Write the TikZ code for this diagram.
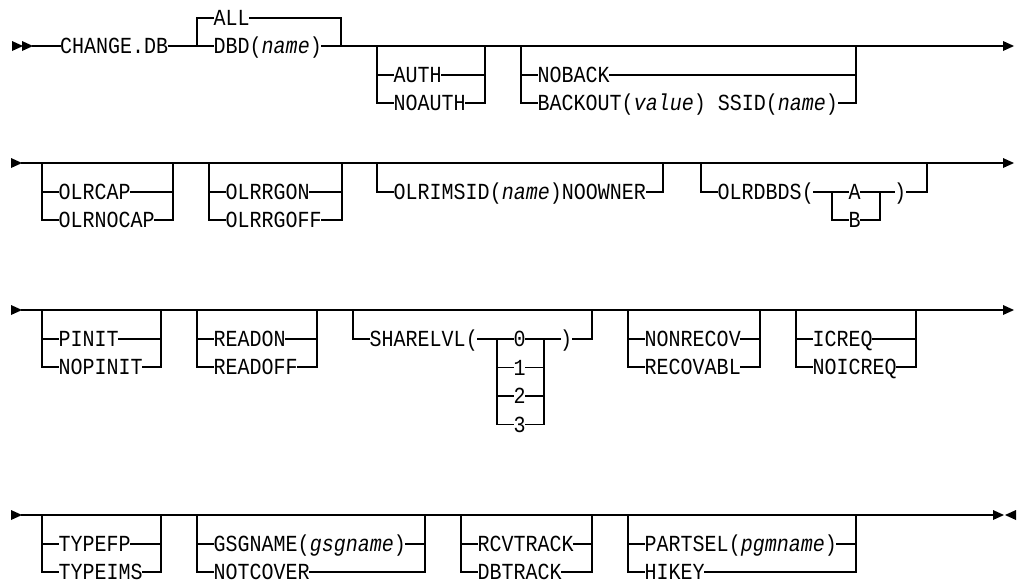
\documentclass[tikz,border=0pt]{standalone}
\usepackage{fontspec}
\newfontfamily\railfont[FakeStretch=0.87]{Liberation Mono}
% branch: name, left x, right x, y, text
\newcommand\rbr[5]{%
  \node[lbl] (#1) at ({#2+16.5},#4) {#5};
  \coordinate (#1-l) at (#2,#4);
  \coordinate (#1-r) at (#3,#4);
  \draw[rail] (#1-l) -- (#1.west);
  \draw[rail] (#1.east) -- (#1-r);}
% group verticals: left x, right x, main y, name of lowest branch
\newcommand\rgrp[4]{%
  \draw[rail] (#1,#3) -- (#4-l);
  \draw[rail] (#2,#3) -- (#4-r);}
\newcommand\rtriR[2]{\fill (#1,{#2-5}) -- ({#1+11},#2) -- (#1,{#2+5}) -- cycle;}
\newcommand\rtriL[2]{\fill ({#1+11},{#2-5}) -- (#1,#2) -- ({#1+11},{#2+5}) -- cycle;}
\begin{document}
\begin{tikzpicture}[x=1pt,y=-1pt,
  rail/.style={line width=1.1pt, line cap=rect},
  lbl/.style={font=\railfont\fontsize{23}{27}\selectfont, inner sep=0pt, anchor=west, text height=15pt, text depth=0pt}]
\useasboundingbox (0,0) rectangle (1017,582);
% ---------------- Row 1 ----------------
\rtriR{12}{46}\rtriR{22}{46}
\coordinate (s1) at (33,46);
\node[lbl] (chg) at (60,46) {CHANGE.DB};
\draw[rail] (s1) -- (chg.west);
\coordinate (g0L) at (197,46);
\coordinate (g0R) at (341,46);
\draw[rail] (chg.east) -- (g0L);
\rbr{all}{197}{341}{18}{ALL}
\node[lbl] (dbd) at (213.5,46) {DBD(\textit{name})};
\draw[rail] (g0L) -- (dbd.west);
\draw[rail] (dbd.east) -- (g0R);
\draw[rail] (all-l) -- (g0L);
\draw[rail] (all-r) -- (g0R);
\coordinate (e1) at (1003,46);
\draw[rail] (g0R) -- (e1);
\rtriR{1003}{46}
\rbr{auth}{377}{485}{75}{AUTH}
\rbr{noauth}{377}{485}{103}{NOAUTH}
\rgrp{377}{485}{46}{noauth}
\rbr{noback}{521}{856}{75}{NOBACK}
\rbr{backout}{521}{856}{103}{BACKOUT(\textit{value}) SSID(\textit{name})}
\rgrp{521}{856}{46}{backout}
% ---------------- Row 2 ----------------
\rtriR{11}{163}
\coordinate (s2) at (22,163);
\coordinate (e2) at (1003,163);
\draw[rail] (s2) -- (e2);
\rtriR{1003}{163}
\rbr{olrcap}{42}{173}{192}{OLRCAP}
\rbr{olrnocap}{42}{173}{220}{OLRNOCAP}
\rgrp{42}{173}{163}{olrnocap}
\rbr{olrrgon}{209}{342}{192}{OLRRGON}
\rbr{olrrgoff}{209}{342}{220}{OLRRGOFF}
\rgrp{209}{342}{163}{olrrgoff}
\rbr{olrimsid}{377}{663}{192}{OLRIMSID(\textit{name})NOOWNER}
\rgrp{377}{663}{163}{olrimsid}
\node[lbl] (olrdbds) at (717.5,192) {OLRDBDS(};
\coordinate (olrdbds-l) at (701,192);
\coordinate (olrdbds-r) at (927,192);
\coordinate (abL) at (832,192);
\coordinate (abR) at (880,192);
\draw[rail] (olrdbds-l) -- (olrdbds.west);
\draw[rail] (olrdbds.east) -- (abL);
\rbr{optA}{832}{880}{192}{A}
\rbr{optB}{832}{880}{220}{B}
\draw[rail] (abL) -- (optB-l);
\draw[rail] (abR) -- (optB-r);
\node[lbl] (rpA) at (894,192) {)};
\draw[rail] (abR) -- (rpA.west);
\draw[rail] (rpA.east) -- (olrdbds-r);
\rgrp{701}{927}{163}{olrdbds}
% ---------------- Row 3 ----------------
\rtriR{11}{310}
\coordinate (s3) at (22,310);
\coordinate (e3) at (1003,310);
\draw[rail] (s3) -- (e3);
\rtriR{1003}{310}
\rbr{pinit}{42}{161}{339}{PINIT}
\rbr{nopinit}{42}{161}{367}{NOPINIT}
\rgrp{42}{161}{310}{nopinit}
\rbr{readon}{197}{317}{339}{READON}
\rbr{readoff}{197}{317}{367}{READOFF}
\rgrp{197}{317}{310}{readoff}
\node[lbl] (sharelvl) at (369.5,339) {SHARELVL(};
\coordinate (sharelvl-l) at (353,339);
\coordinate (sharelvl-r) at (592,339);
\coordinate (dL) at (497,339);
\coordinate (dR) at (544,339);
\draw[rail] (sharelvl-l) -- (sharelvl.west);
\draw[rail] (sharelvl.east) -- (dL);
\rbr{d0}{497}{544}{339}{0}
\rbr{d1}{497}{544}{367.5}{1}
\rbr{d2}{497}{544}{396}{2}
\rbr{d3}{497}{544}{424.5}{3}
\draw[rail] (dL) -- (d3-l);
\draw[rail] (dR) -- (d3-r);
\node[lbl] (rpS) at (560,339) {)};
\draw[rail] (dR) -- (rpS.west);
\draw[rail] (rpS.east) -- (sharelvl-r);
\rgrp{353}{592}{310}{sharelvl}
\rbr{nonrecov}{628}{760}{339}{NONRECOV}
\rbr{recovabl}{628}{760}{367}{RECOVABL}
\rgrp{628}{760}{310}{recovabl}
\rbr{icreq}{796}{916}{339}{ICREQ}
\rbr{noicreq}{796}{916}{367}{NOICREQ}
\rgrp{796}{916}{310}{noicreq}
% ---------------- Row 4 ----------------
\rtriR{11}{515}
\coordinate (s4) at (22,515);
\coordinate (e4) at (993,515);
\draw[rail] (s4) -- (e4);
\coordinate (t1) at (862,515);
\coordinate (t2) at (885,515);
\draw[line width=2.4pt] (t1) -- (t2);
\rtriR{993}{515}\rtriL{1005}{515}
\rbr{typefp}{42}{161}{544}{TYPEFP}
\rbr{typeims}{42}{161}{572}{TYPEIMS}
\rgrp{42}{161}{515}{typeims}
\rbr{gsgname}{197}{425}{544}{GSGNAME(\textit{gsgname})}
\rbr{notcover}{197}{425}{572}{NOTCOVER}
\rgrp{197}{425}{515}{notcover}
\rbr{rcvtrack}{461}{592}{544}{RCVTRACK}
\rbr{dbtrack}{461}{592}{572}{DBTRACK}
\rgrp{461}{592}{515}{dbtrack}
\rbr{partsel}{628}{856}{544}{PARTSEL(\textit{pgmname})}
\rbr{hikey}{628}{856}{572}{HIKEY}
\rgrp{628}{856}{515}{hikey}
\end{tikzpicture}
\end{document}
